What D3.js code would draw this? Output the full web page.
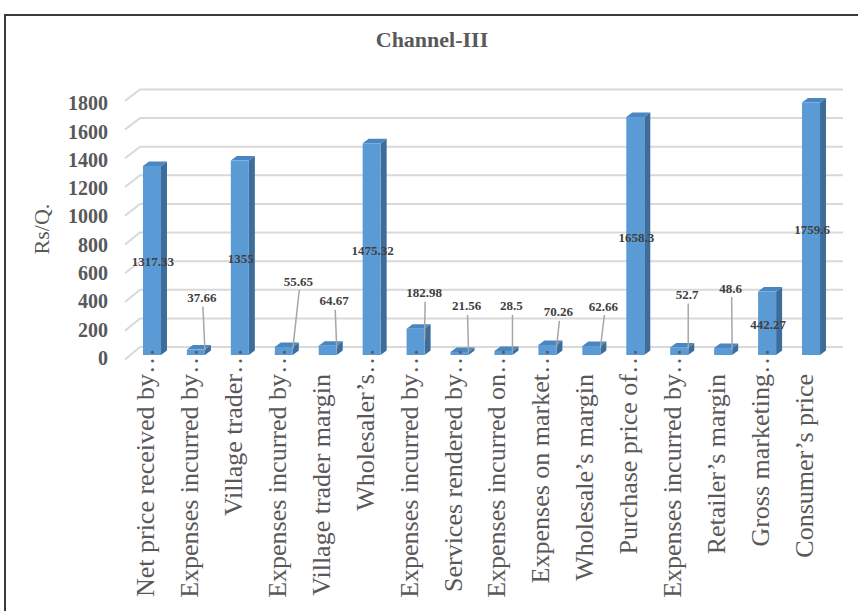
<!DOCTYPE html>
<html>
<head>
<meta charset="utf-8">
<script src="https://cdn.jsdelivr.net/npm/d3@7"></script>
<style>
  html, body { margin: 0; padding: 0; background: #ffffff; }
  svg { display: block; }
</style>
</head>
<body>
<svg id="chart" width="858" height="611"></svg>
<script>
// Marketing channel III: price build-up, Rs per quintal
const categories = [
  "Net price received by…",
  "Expenses incurred by…",
  "Village trader…",
  "Expenses incurred by…",
  "Village trader margin",
  "Wholesaler’s…",
  "Expenses incurred by…",
  "Services rendered by…",
  "Expenses incurred on…",
  "Expenses on market…",
  "Wholesale’s margin",
  "Purchase price of…",
  "Expenses incurred by…",
  "Retailer’s margin",
  "Gross marketing…",
  "Consumer’s price"
];
const values = [1317.33, 37.66, 1355, 55.65, 64.67, 1475.32, 182.98, 21.56,
                28.5, 70.26, 62.66, 1658.3, 52.7, 48.6, 442.27, 1759.6];
const yTicks = [0, 200, 400, 600, 800, 1000, 1200, 1400, 1600, 1800];

// Callout placement for short bars: label centre offset from the bar's centre / top (px)
const calloutOffsets = {
  1: [6, -52], 3: [14.5, -66], 4: [6.5, -45], 6: [8.5, -36], 7: [7, -46],
  8: [8, -45], 9: [11, -33], 10: [12, -40], 12: [8, -53], 13: [7.5, -60]
};

const svg = d3.select("#chart");
const font = "'Liberation Serif', 'Times New Roman', serif";
const grey = "#595959";

// outer frame
svg.append("path")
  .attr("d", "M5,611 L5,15 L858,15")
  .attr("fill", "none").attr("stroke", "#3a3a3a").attr("stroke-width", 2);

// title
svg.append("text")
  .attr("x", 432).attr("y", 47)
  .attr("text-anchor", "middle")
  .attr("font-family", font).attr("font-weight", "bold")
  .attr("font-size", 22).attr("fill", grey)
  .text("Channel-III");

// scales: back wall, side-wall front edge, bar front face, tick labels
const wallLeft = 140, wallRight = 843, sideFrontX = 125;
const yWall = d3.scaleLinear().domain([0, 1800]).range([347, 89.5]);
const ySide = d3.scaleLinear().domain([0, 1800]).range([359.5, 100.7]);
const yBar = d3.scaleLinear().domain([0, 1800]).range([355, 96.7]);
const yAxis = d3.scaleLinear().domain([0, 1800]).range([358, 103.5]);
const x = d3.scaleBand()
  .domain(d3.range(categories.length))
  .range([130, 833])
  .paddingInner(0.59)
  .paddingOuter(0.295);
const bw = x.bandwidth();
const depthX = 6, depthY = -4.5;

// gridlines on the side and back walls
const grid = svg.append("g");
yTicks.forEach(t => {
  grid.append("polyline")
    .attr("points", `${sideFrontX},${ySide(t)} ${wallLeft},${yWall(t)} ${wallRight},${yWall(t)}`)
    .attr("fill", "none").attr("stroke", "#d9d9d9").attr("stroke-width", 2);
});

// y tick labels
svg.append("g").selectAll("text").data(yTicks).join("text")
  .attr("x", 108).attr("y", d => yAxis(d))
  .attr("dy", "0.34em")
  .attr("text-anchor", "end")
  .attr("font-family", font).attr("font-weight", "bold")
  .attr("font-size", 20).attr("fill", grey)
  .text(d => d);

// y axis title
svg.append("text")
  .attr("transform", "translate(49,229) rotate(-90)")
  .attr("text-anchor", "middle")
  .attr("font-family", font).attr("font-size", 22).attr("fill", grey)
  .text("Rs/Q.");

// 3-D columns
const bars = svg.append("g").selectAll("g").data(values).join("g");
bars.append("polygon") // side face
  .attr("points", (d, i) => {
    const x1 = x(i) + bw, yt = yBar(d), yb = yBar(0);
    return `${x1},${yt} ${x1 + depthX},${yt + depthY} ${x1 + depthX},${yb + depthY} ${x1},${yb}`;
  })
  .attr("fill", "#3d6d9b");
bars.append("polygon") // top face
  .attr("points", (d, i) => {
    const x0 = x(i), yt = yBar(d);
    return `${x0},${yt} ${x0 + depthX},${yt + depthY} ${x0 + bw + depthX},${yt + depthY} ${x0 + bw},${yt}`;
  })
  .attr("fill", "#4a86c0");
bars.append("rect") // front face
  .attr("x", (d, i) => x(i))
  .attr("y", d => yBar(d))
  .attr("width", bw)
  .attr("height", d => yBar(0) - yBar(d))
  .attr("fill", "#5b9bd5");

// value labels: inside tall columns, callouts with leader lines for short ones
const labels = svg.append("g");
values.forEach((v, i) => {
  const cx = x(i) + bw / 2;
  const fmt = String(v);
  if (calloutOffsets[i]) {
    const [dx, dy] = calloutOffsets[i];
    const lx = cx + dx, ly = yBar(v) + dy;
    const endY = (yBar(v) + yBar(0)) / 2 - 2;
    labels.append("line")
      .attr("x1", lx + 1).attr("y1", ly + 9)
      .attr("x2", cx + 9).attr("y2", endY)
      .attr("stroke", "#a6a6a6").attr("stroke-width", 1.5);
    labels.append("text")
      .attr("x", lx).attr("y", ly).attr("dy", "0.35em")
      .attr("text-anchor", "middle")
      .attr("font-family", font).attr("font-weight", "bold")
      .attr("font-size", 13).attr("fill", "#404040")
      .text(fmt);
  } else {
    labels.append("text")
      .attr("x", cx + 1).attr("y", (yBar(v) + yBar(0)) / 2 + 1)
      .attr("dy", "0.35em")
      .attr("text-anchor", "middle")
      .attr("font-family", font).attr("font-weight", "bold")
      .attr("font-size", 13).attr("fill", "#404040")
      .text(fmt);
  }
});

// rotated category labels, truncated ones keep their ellipsis above the axis line
const cat = svg.append("g");
categories.forEach((c, i) => {
  const cx = x(i) + bw / 2;
  const g = cat.append("g")
    .attr("transform", `translate(${cx + 2},374) rotate(-90)`);
  const truncated = c.endsWith("…");
  const main = truncated ? c.slice(0, -1) : c;
  g.append("text")
    .attr("text-anchor", "end")
    .attr("font-family", font).attr("font-size", 26).attr("fill", grey)
    .text(main);
  if (truncated) {
    g.append("text")
      .attr("text-anchor", "start")
      .attr("font-family", font).attr("font-size", 26).attr("fill", grey)
      .text("…");
  }
});
</script>
</body>
</html>
